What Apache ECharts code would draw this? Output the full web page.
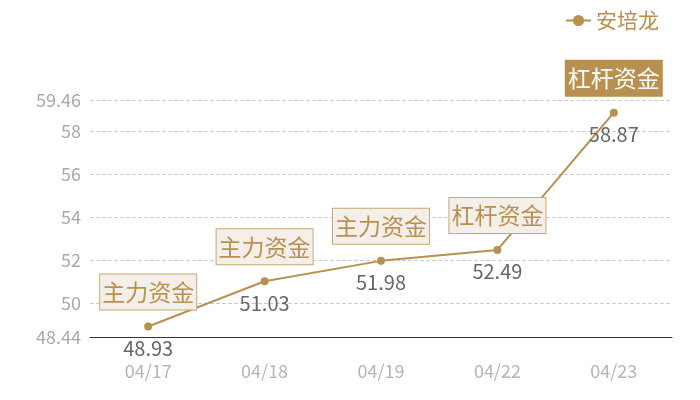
<!doctype html>
<html>
<head>
<meta charset="UTF-8">
<title>安培龙</title>
<script src="https://cdn.jsdelivr.net/npm/echarts@6/dist/echarts.min.js"></script>
<style>
	html, body { margin: 0; padding: 0; background: #fff; }
	#chart { width: 700px; height: 400px; }
</style>
</head>
<body>
<div id="chart"></div>
<script type="text/javascript">
	var dates = ['04/17', '04/18', '04/19', '04/22', '04/23'];
	var prices = [48.93, 51.03, 51.98, 52.49, 58.87];
	var tags = ['主力资金', '主力资金', '主力资金', '杠杆资金', '杠杆资金'];
	var yMin = 48.44;
	var yMax = 59.46;

	var gold = '#b8904f';

	// 标签框，最后一天高亮
	var marks = [];
	for (var i = 0; i < dates.length; i++) {
		var last = (i == dates.length - 1);
		marks.push({
			coord: [dates[i], prices[i]],
			value: tags[i],
			label: {
				color: last ? '#fff' : gold,
				backgroundColor: last ? gold : '#f4efe8',
				borderColor: last ? gold : '#c9a877'
			}
		});
	}

	var chart = echarts.init(document.getElementById('chart'));
	chart.setOption({
		textStyle: { fontFamily: '"Noto Sans CJK SC", "Noto Sans", sans-serif' },
		legend: {
			top: 5,
			right: 36,
			itemWidth: 25,
			itemHeight: 14,
			textStyle: { color: gold, fontSize: 21 },
			data: ['安培龙']
		},
		grid: { left: 90, right: 28, top: 100, bottom: 63 },
		xAxis: {
			type: 'category',
			data: dates,
			axisTick: { show: false },
			axisLine: { lineStyle: { color: '#333', width: 1 } },
			axisLabel: { color: '#b5b5b5', fontSize: 18, margin: 25 }
		},
		yAxis: {
			type: 'value',
			min: yMin,
			max: yMax,
			splitNumber: 5,
			axisLine: { show: false },
			axisTick: { show: false },
			axisLabel: { color: '#aaa', fontSize: 18, margin: 9, showMinLabel: true, showMaxLabel: true },
			splitLine: { lineStyle: { color: '#ccc', type: 'dashed' } }
		},
		series: [{
			name: '安培龙',
			type: 'line',
			data: prices,
			symbol: 'circle',
			symbolSize: 8,
			itemStyle: { color: gold },
			lineStyle: { color: gold, width: 2 },
			label: {
				show: true,
				position: 'bottom',
				distance: 8,
				color: '#666',
				fontSize: 20
			},
			markPoint: {
				symbol: 'circle',
				symbolSize: 0,
				label: {
					show: true,
					position: 'top',
					distance: 17,
					fontSize: 23,
					lineHeight: 29,
					padding: [3, 2],
					borderWidth: 1,
					formatter: function(p) { return p.value; }
				},
				data: marks
			}
		}]
	});
</script>
</body>
</html>
